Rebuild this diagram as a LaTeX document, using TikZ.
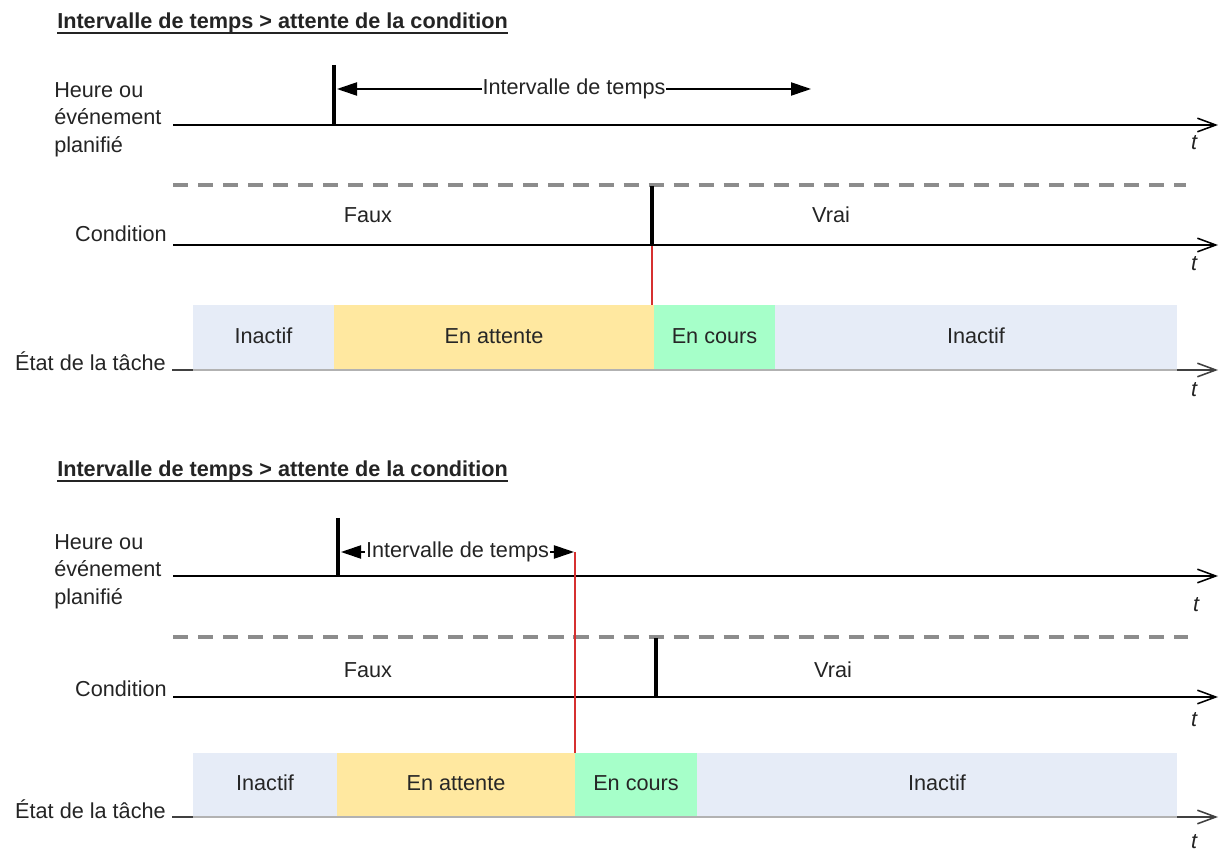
\documentclass[tikz,border=0pt]{standalone}
\usepackage{fontspec}
\setmainfont{Liberation Sans}
\usetikzlibrary{arrows.meta}
\definecolor{inkgray}{RGB}{36,36,36}
\definecolor{idlefill}{RGB}{230,236,247}
\definecolor{waitfill}{RGB}{255,232,160}
\definecolor{runfill}{RGB}{166,255,201}
\definecolor{condgray}{RGB}{140,140,140}
\definecolor{edgegray}{RGB}{178,178,178}
\definecolor{trigred}{RGB}{214,48,48}

\begin{document}
\begin{tikzpicture}[
  x=.025cm,y=-.025cm,
  every node/.style={font=\fontsize{15.4}{19.5}\selectfont,text=inkgray,inner sep=0pt},
  heading/.style={font=\fontsize{15.4}{19.5}\selectfont\bfseries,anchor=base west},
  axis/.style={line width=1.4pt,-{Straight Barb[length=4.6mm,width=3.4mm,line width=1.1pt]}},
  stateaxis/.style={axis,black!75},
  baredge/.style={line width=1.5pt,edgegray},
  cond/.style={line width=2.8pt,condgray,dash pattern=on 10.7pt off 7.1pt},
  tick/.style={line width=3.5pt},
  span/.style={line width=1.1pt,{Triangle[length=5mm,width=3.3mm]}-{Triangle[length=5mm,width=3.3mm]}},
  trigger/.style={line width=1pt,trigred},
  tlabel/.style={font=\fontsize{15.4}{19.5}\selectfont\itshape},
  statebox/.style={text=black!85}
]
\path[use as bounding box] (0,0) rectangle (1219,852);
\fill[white] (0,0) rectangle (1219,852);

% ---- Upper panel: the interval ends before the condition is met.
\node[heading] (u-title) at (57,29) {Intervalle de temps > attente de la condition};
\draw[line width=1.4pt,inkgray] ([yshift=-2.8pt]u-title.base west) -- ([yshift=-2.8pt]u-title.base east);

\node[anchor=west,align=left] (u-sched) at (54,119.5) {Heure ou\\événement\\planifié};
\node[anchor=east] (u-cond) at (167,234) {Condition};
\node[anchor=east] (u-state) at (166,361) {État de la tâche};

\coordinate (u-ev0) at (173,125);
\coordinate (u-ev1) at (1218,125);
\coordinate (u-cd0) at (173,245);
\coordinate (u-cd1) at (1218,245);
\coordinate (u-st0) at (172,370);
\coordinate (u-st1) at (1218,370);
\coordinate (u-true0) at (173,185);
\coordinate (u-true1) at (1186,185);

% task states
\draw[stateaxis] (u-st0) -- (u-st1);
\foreach \xa/\xb/\col/\txt [count=\i] in {193/334/idlefill/Inactif,334/654/waitfill/En attente,654/775/runfill/En cours,775/1177/idlefill/Inactif}{
  \fill[\col] (\xa,305) rectangle (\xb,369);
  \node[statebox] (u-box\i) at ({(\xa+\xb)/2},336) {\txt};
}
\draw[baredge] (193,370) -- (1177,370);

\draw[axis] (u-ev0) -- (u-ev1);
\draw[axis] (u-cd0) -- (u-cd1);
\draw[cond] (u-true0) -- (u-true1);
\node (u-false) at (368,215) {Faux};
\node (u-true) at (831,215) {Vrai};
\node[tlabel] (u-t1) at (1194,143) {t};
\node[tlabel] (u-t2) at (1194,264) {t};
\node[tlabel] (u-t3) at (1194,390) {t};

% scheduled event and its time interval
\coordinate (u-evtop) at (334,65);
\coordinate (u-evbot) at (334,126);
\draw[tick] (u-evtop) -- (u-evbot);
\coordinate (u-span0) at (337,89);
\coordinate (u-span1) at (811,89);
\draw[span] (u-span0) -- (u-span1) node[midway,fill=white,inner xsep=.5pt,inner ysep=2pt] (u-spanlbl) {Intervalle de temps};

% condition becomes true: the task starts
\coordinate (u-cdtop) at (652,186);
\coordinate (u-cdbot) at (652,246);
\coordinate (u-run) at (652,305);
\draw[tick] (u-cdtop) -- (u-cdbot);
\draw[trigger] (u-cdbot) -- (u-run);

% ---- Lower panel: the condition is met after the interval.
\node[heading] (l-title) at (57,477) {Intervalle de temps > attente de la condition};
\draw[line width=1.4pt,inkgray] ([yshift=-2.8pt]l-title.base west) -- ([yshift=-2.8pt]l-title.base east);

\node[anchor=west,align=left] (l-sched) at (54,571.5) {Heure ou\\événement\\planifié};
\node[anchor=east] (l-cond) at (167,689) {Condition};
\node[anchor=east] (l-state) at (166,809) {État de la tâche};

\coordinate (l-ev0) at (173,576);
\coordinate (l-ev1) at (1218,576);
\coordinate (l-cd0) at (173,697);
\coordinate (l-cd1) at (1218,697);
\coordinate (l-st0) at (172,817);
\coordinate (l-st1) at (1218,817);
\coordinate (l-true0) at (173,637);
\coordinate (l-true1) at (1188,637);

% task states
\draw[stateaxis] (l-st0) -- (l-st1);
\foreach \xa/\xb/\col/\txt [count=\i] in {193/337/idlefill/Inactif,337/575/waitfill/En attente,575/697/runfill/En cours,697/1177/idlefill/Inactif}{
  \fill[\col] (\xa,753) rectangle (\xb,816);
  \node[statebox] (l-box\i) at ({(\xa+\xb)/2},783) {\txt};
}
\draw[baredge] (193,817) -- (1177,817);

\draw[axis] (l-ev0) -- (l-ev1);
\draw[axis] (l-cd0) -- (l-cd1);
\draw[cond] (l-true0) -- (l-true1);
\node (l-false) at (368,670) {Faux};
\node (l-true) at (833,670) {Vrai};
\node[tlabel] (l-t1) at (1196,605) {t};
\node[tlabel] (l-t2) at (1194,720) {t};
\node[tlabel] (l-t3) at (1194,842) {t};

% scheduled event; the interval runs out first
\coordinate (l-evtop) at (338,518);
\coordinate (l-evbot) at (338,577);
\draw[tick] (l-evtop) -- (l-evbot);
\coordinate (l-span0) at (341,552);
\coordinate (l-span1) at (574,552);
\draw[span] (l-span0) -- (l-span1) node[midway,fill=white,inner xsep=.5pt,inner ysep=2pt] (l-spanlbl) {Intervalle de temps};
\coordinate (l-spanend) at (575,552);
\coordinate (l-run) at (575,753);
\draw[trigger] (l-spanend) -- (l-run);

% condition becomes true later
\coordinate (l-cdtop) at (656,638);
\coordinate (l-cdbot) at (656,698);
\draw[tick] (l-cdtop) -- (l-cdbot);
\end{tikzpicture}
\end{document}
